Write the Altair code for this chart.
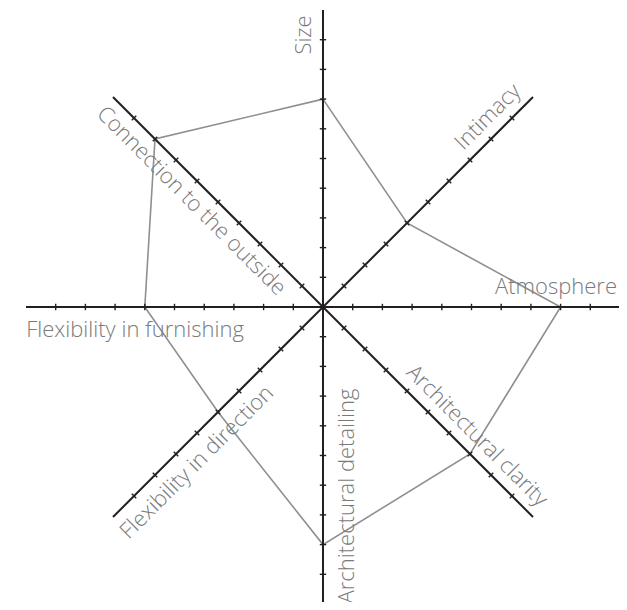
import math
import altair as alt
import pandas as pd

# ---- data ----
categories = ["Size", "Intimacy", "Atmosphere", "Architectural clarity",
              "Architectural detailing", "Flexibility in direction",
              "Flexibility in furnishing", "Connection to the outside"]
values = [7, 4, 8, 7, 8, 5, 6, 8]
tick_values = [1, 2, 3, 4, 5, 6, 7, 8, 9]
axis_max = 10

# ---- layout ----
PX = 29.7                      # pixels per unit
CX, CY = 323, 307              # centre on page
W, H = 611, 594
label_along = [272, 251, 233, 200, 189, 199, 188, 168]   # px along the axis
label_offset = [19, 18, 20, 18, 24, 20.5, 23, 18]        # px to the left of axis direction
label_angle = [270, 315, 0, 45, 270, 315, 0, 45]
tick_half = 3.2                # px

n = len(categories)
angles = [i * 2 * math.pi / n for i in range(n)]

def u(th):
    return math.sin(th), math.cos(th)

def nl(th):
    return -math.cos(th), math.sin(th)

axes_rows, tick_rows, poly_rows, label_rows = [], [], [], []
for i, (cat, th) in enumerate(zip(categories, angles)):
    ux, uy = u(th)
    nx, ny = nl(th)
    axes_rows.append(dict(cat=cat, x=0, y=0, x2=axis_max * ux, y2=axis_max * uy))
    h = tick_half / PX
    for r in tick_values:
        tick_rows.append(dict(cat=cat, x=r * ux - h * nx, y=r * uy - h * ny,
                              x2=r * ux + h * nx, y2=r * uy + h * ny))
    poly_rows.append(dict(order=i, cat=cat, x=values[i] * ux, y=values[i] * uy))
    a = label_along[i] / PX
    o = label_offset[i] / PX
    label_rows.append(dict(cat=cat, x=a * ux + o * nx, y=a * uy + o * ny,
                           angle=label_angle[i]))
poly_rows.append(dict(order=n, cat=categories[0], x=values[0] * u(0)[0],
                      y=values[0] * u(0)[1]))

xmin = -(CX - 8) / PX
xmax = xmin + W / PX
ymax = (CY - 8) / PX
ymin = ymax - H / PX

xs = alt.Scale(domain=[xmin, xmax], nice=False, zero=False)
ys = alt.Scale(domain=[ymin, ymax], nice=False, zero=False)

axes_df = pd.DataFrame(axes_rows)
ticks_df = pd.DataFrame(tick_rows)
poly_df = pd.DataFrame(poly_rows)
labels_df = pd.DataFrame(label_rows)

poly = alt.Chart(poly_df).mark_line(color="#8f8f8f", strokeWidth=1.6).encode(
    x=alt.X("x:Q", scale=xs, axis=None),
    y=alt.Y("y:Q", scale=ys, axis=None),
    order="order:Q",
)

axis_lines = alt.Chart(axes_df).mark_rule(color="#231f20", strokeWidth=2).encode(
    x=alt.X("x:Q", scale=xs, axis=None),
    y=alt.Y("y:Q", scale=ys, axis=None),
    x2="x2:Q", y2="y2:Q",
)

ticks = alt.Chart(ticks_df).mark_rule(color="#231f20", strokeWidth=1.4).encode(
    x=alt.X("x:Q", scale=xs, axis=None),
    y=alt.Y("y:Q", scale=ys, axis=None),
    x2="x2:Q", y2="y2:Q",
)

labels = alt.Chart(labels_df).mark_text(
    font="Open Sans", fontSize=22, fontWeight=300, color="#7a7a7a",
    align="center", baseline="middle",
).encode(
    x=alt.X("x:Q", scale=xs, axis=None),
    y=alt.Y("y:Q", scale=ys, axis=None),
    text="cat:N",
    angle=alt.Angle("angle:Q", scale=None),
)

chart = alt.layer(poly, axis_lines, ticks, labels).properties(
    width=W, height=H,
    autosize=alt.AutoSizeParams(type="none"),
    padding=0,
).configure_view(stroke=None)

chart.save("out.html", embed_options={"renderer": "svg", "actions": False})
